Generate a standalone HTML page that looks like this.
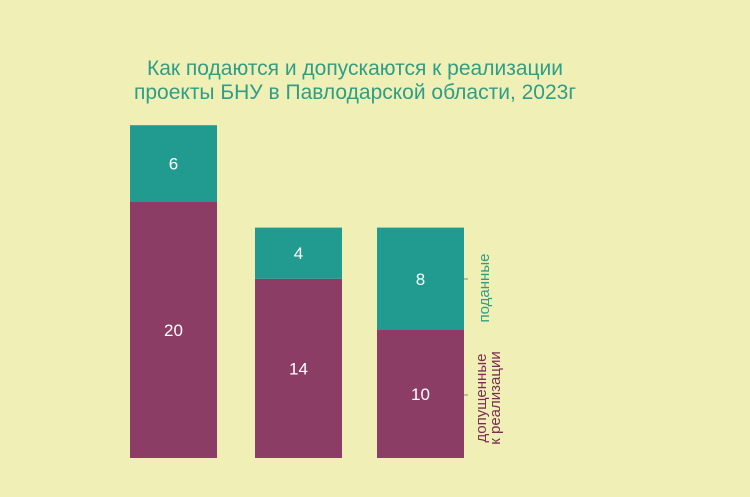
<!DOCTYPE html>
<html><head><meta charset="utf-8"><style>
body{margin:0;background:#f0efb5;}
svg{display:block;font-family:"Liberation Sans","DejaVu Sans",sans-serif;}
</style></head><body>
<svg id="chart" width="750" height="497" viewBox="0 0 750 497">
<rect width="750" height="497" fill="#f0efb5"/>
<text x="355" y="75" text-anchor="middle" font-size="21" fill="#2f9e86">Как подаются и допускаются к реализации</text>
<text x="355" y="99" text-anchor="middle" font-size="21" fill="#2f9e86">проекты БНУ в Павлодарской области, 2023г</text>
<g id="bars"></g>
<line x1="464" y1="279" x2="468" y2="279" stroke="#888" stroke-width="1"/>
<line x1="464" y1="395" x2="468" y2="395" stroke="#888" stroke-width="1"/>
<text transform="translate(489,288) rotate(-90)" text-anchor="middle" font-size="15" fill="#2f9e86">поданные</text>
<text transform="translate(486,398) rotate(-90)" text-anchor="middle" font-size="15" fill="#7a2e55">допущенные</text>
<text transform="translate(500,398) rotate(-90)" text-anchor="middle" font-size="15" fill="#7a2e55">к реализации</text>
</svg>
<script>
const categories = ["проект-1", "проект-2", "проект-3"];
const admitted = [20, 14, 10];
const submittedExtra = [6, 4, 8];

const baseY = 458, pxPerUnit = 12.8;
const barX = [130, 255, 377], barW = 87;
function y(v){ return baseY - v * pxPerUnit; }
const NS = "http://www.w3.org/2000/svg";
const g = document.getElementById("bars");
categories.forEach((c, i) => {
  const a = admitted[i], s = submittedExtra[i];
  const r1 = document.createElementNS(NS, "rect");
  r1.setAttribute("x", barX[i]); r1.setAttribute("width", barW);
  r1.setAttribute("y", y(a)); r1.setAttribute("height", baseY - y(a));
  r1.setAttribute("fill", "#8b3d66");
  
  
  g.appendChild(r1);
  const r2 = document.createElementNS(NS, "rect");
  r2.setAttribute("x", barX[i]); r2.setAttribute("width", barW);
  r2.setAttribute("y", y(a + s)); r2.setAttribute("height", y(a) - y(a + s));
  r2.setAttribute("fill", "#219b8f");
  
  
  g.appendChild(r2);
  const t1 = document.createElementNS(NS, "text");
  t1.setAttribute("x", barX[i] + barW / 2); t1.setAttribute("y", (baseY + y(a)) / 2 + 6);
  t1.setAttribute("text-anchor", "middle"); t1.setAttribute("font-size", "17"); t1.setAttribute("fill", "#fff");
  t1.textContent = a;
  
  
  g.appendChild(t1);
  const t2 = document.createElementNS(NS, "text");
  t2.setAttribute("x", barX[i] + barW / 2); t2.setAttribute("y", (y(a) + y(a + s)) / 2 + 6);
  t2.setAttribute("text-anchor", "middle"); t2.setAttribute("font-size", "17"); t2.setAttribute("fill", "#fff");
  t2.textContent = s;
  
  
  g.appendChild(t2);
});
</script>
</body></html>
